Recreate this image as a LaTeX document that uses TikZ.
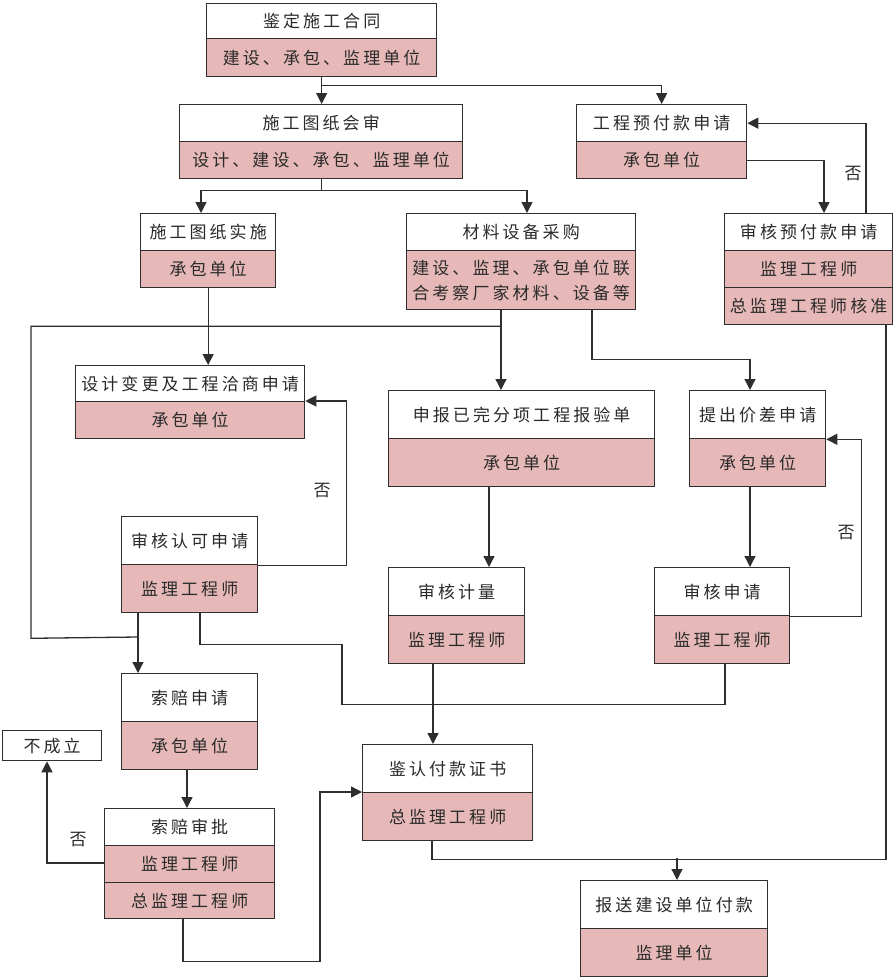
\documentclass[tikz,border=0pt]{standalone}
\usepackage{fontspec}
\newfontfamily\cjk[LetterSpace=18]{Noto Sans CJK SC}
\usetikzlibrary{arrows.meta}
\definecolor{pk}{HTML}{E6B9B8}
\definecolor{lc}{HTML}{2E2E2E}
\definecolor{tc}{HTML}{2A2A2A}
\begin{document}
\begin{tikzpicture}[x=1pt,y=-1pt,
  hd/.style={draw=lc, fill=white, line width=1.3pt, anchor=north west, inner sep=0pt,
    font=\cjk\fontsize{17pt}{25pt}\selectfont, text=tc, align=center},
  sb/.style={hd, fill=pk},
  ln/.style={draw=lc, line width=1.3pt},
  ar/.style={ln, -{Triangle[length=11pt,width=11pt]}},
  lb/.style={font=\cjk\fontsize{17pt}{20pt}\selectfont, text=tc, inner sep=0pt}]
\useasboundingbox (0,0) rectangle (896,980);

% boxes
\node[hd, minimum width=230pt, minimum height=35pt] (b1h) at (206,3) {鉴定施工合同};
\node[sb, minimum width=230pt, minimum height=38pt] (b1s) at (206,38) {建设、承包、监理单位};

\node[hd, minimum width=283pt, minimum height=37pt] (b2h) at (179,104) {施工图纸会审};
\node[sb, minimum width=283pt, minimum height=37pt] (b2s) at (179,141) {设计、建设、承包、监理单位};

\node[hd, minimum width=170pt, minimum height=37pt] (b3h) at (576,104) {工程预付款申请};
\node[sb, minimum width=170pt, minimum height=37pt] (b3s) at (576,141) {承包单位};

\node[hd, minimum width=135pt, minimum height=37pt] (b4h) at (140,213) {施工图纸实施};
\node[sb, minimum width=135pt, minimum height=37pt] (b4s) at (140,250) {承包单位};

\node[hd, minimum width=229pt, minimum height=37pt] (b5h) at (406,213) {材料设备采购};
\node[sb, minimum width=229pt, minimum height=59pt] (b5s) at (406,250) {建设、监理、承包单位联\\合考察厂家材料、设备等};

\node[hd, minimum width=168pt, minimum height=37pt] (b6h) at (724,213) {审核预付款申请};
\node[sb, minimum width=168pt, minimum height=37pt] (b6s) at (724,250) {监理工程师};
\node[sb, minimum width=168pt, minimum height=37pt] (b6t) at (724,287) {总监理工程师核准};

\node[hd, minimum width=229pt, minimum height=36pt] (b7h) at (75,365) {设计变更及工程洽商申请};
\node[sb, minimum width=229pt, minimum height=37pt] (b7s) at (75,401) {承包单位};

\node[hd, minimum width=266pt, minimum height=48pt] (b8h) at (388,390) {申报已完分项工程报验单};
\node[sb, minimum width=266pt, minimum height=48pt] (b8s) at (388,438) {承包单位};

\node[hd, minimum width=136pt, minimum height=48pt] (b9h) at (689,390) {提出价差申请};
\node[sb, minimum width=136pt, minimum height=48pt] (b9s) at (689,438) {承包单位};

\node[hd, minimum width=136pt, minimum height=48pt] (b10h) at (121,516) {审核认可申请};
\node[sb, minimum width=136pt, minimum height=48pt] (b10s) at (121,564) {监理工程师};

\node[hd, minimum width=136pt, minimum height=48pt] (b11h) at (388,567) {审核计量};
\node[sb, minimum width=136pt, minimum height=48pt] (b11s) at (388,615) {监理工程师};

\node[hd, minimum width=135pt, minimum height=48pt] (b12h) at (654,567) {审核申请};
\node[sb, minimum width=135pt, minimum height=48pt] (b12s) at (654,615) {监理工程师};

\node[hd, minimum width=136pt, minimum height=48pt] (b13h) at (121,673) {索赔申请};
\node[sb, minimum width=136pt, minimum height=48pt] (b13s) at (121,721) {承包单位};

\node[hd, minimum width=99pt, minimum height=30pt] (b14) at (2,730) {不成立};

\node[hd, minimum width=170pt, minimum height=37pt] (b15h) at (104,808) {索赔审批};
\node[sb, minimum width=170pt, minimum height=37pt] (b15s) at (104,845) {监理工程师};
\node[sb, minimum width=170pt, minimum height=36pt] (b15t) at (104,882) {总监理工程师};

\node[hd, minimum width=170pt, minimum height=48pt] (b16h) at (362,744) {鉴认付款证书};
\node[sb, minimum width=170pt, minimum height=48pt] (b16s) at (362,792) {总监理工程师};

\node[hd, minimum width=187pt, minimum height=48pt] (b17h) at (580,880) {报送建设单位付款};
\node[sb, minimum width=187pt, minimum height=48pt] (b17s) at (580,928) {监理单位};

% junction coordinates
\coordinate (j1) at (138,637);
\coordinate (j2) at (677,858);

% connectors
\draw[ar] (b1s.south) -- (b1s.south |- b2h.north);
\draw[ar] (b1s.south) ++(0,8) -| (b3h.north);

\draw[ln] (b2s.south) -- ++(0,11);
\draw[ar] (b2s.south) ++(0,11) -| ([xshift=61pt]b4h.north west);
\draw[ar] (b2s.south) ++(0,11) -| ([xshift=121pt]b5h.north west);

\draw[ar] (b3s.east) -| ([xshift=100pt]b6h.north west);
\draw[ar] ([xshift=142pt]b6h.north west) |- (b3h.east);
\node[lb] (n1) at (853,174) {否};

\draw[ar] (b4s.south) -- (b4s.south |- b7h.north);

\draw[ar] ([xshift=95pt]b5s.south west) -- ([xshift=113pt]b8h.north west);
\draw[ln] ([xshift=95pt]b5s.south west) ++(0,16) -- ++(-470,0) -- ++(0,312) -- (j1);
\draw[ar] ([xshift=186pt]b5s.south west) -- ++(0,49) -| ([xshift=61pt]b9h.north west);

\draw[ar] ([xshift=17pt]b10s.south west) -- ([xshift=17pt]b13h.north west);
\draw[ar] (b10h.south east) -- ++(88,0) |- (b7s.north east);
\node[lb] (n2) at (322,491) {否};

\draw[ln] ([xshift=79pt]b10s.south west) -- ++(0,31) -- ++(142,0) -- ++(0,60) -| ([xshift=71pt]b12s.south west);

\draw[ar] ([xshift=101pt]b8s.south west) -- ([xshift=101pt]b11h.north west);
\draw[ar] ([xshift=61pt]b9s.south west) -- ([xshift=96pt]b12h.north west);
\draw[ar] (b12h.south east) -- ++(71,0) |- (b9h.south east);
\node[lb] (n3) at (846,533) {否};

\draw[ar] ([xshift=45pt]b11s.south west) -- ([xshift=71pt]b16h.north west);

\draw[ar] ([xshift=66pt]b13s.south west) -- ([xshift=83pt]b15h.north west);
\draw[ar] ([yshift=-18pt]b15s.north west) -| ([xshift=45pt]b14.south west);
\node[lb] (n4) at (78,840) {否};

\draw[ar] ([xshift=79pt]b15t.south west) -- ++(0,42) -- ++(137,0) |- (b16s.north west);

\draw[ln] ([xshift=70pt]b16s.south west) -- ++(0,18) -| ([xshift=162pt]b6t.south west);
\draw[ar] (j2) -- ([xshift=97pt]b17h.north west);
\end{tikzpicture}
\end{document}
